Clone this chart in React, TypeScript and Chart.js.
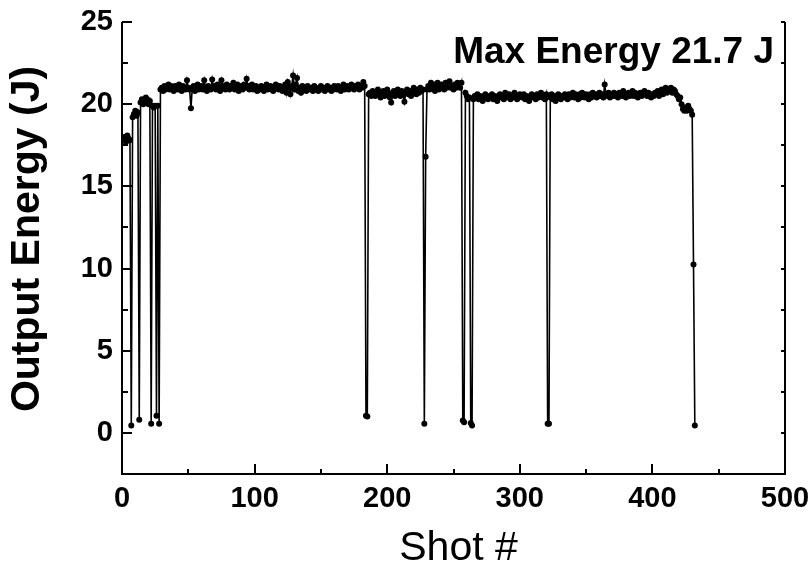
import React, { useEffect, useRef } from "react";
import { Chart, registerables } from "chart.js";
Chart.register(...registerables);

// Output energy (J) for shots 1..432
const energyJ: number[] = [
  17.8, 18.0, 17.7, 18.1, 17.9, 17.8, 0.45, 19.2, 19.4, 19.6, // 1-10
  19.3, 19.5, 0.8, 20.1, 20.3, 20.0, 20.2, 20.4, 20.3, 20.0, // 11-20
  20.2, 0.55, 19.9, 19.8, 19.9, 1.05, 19.9, 0.55, 20.9, 21.0, // 21-30
  20.8, 21.1, 20.9, 21.0, 21.2, 20.9, 21.1, 21.0, 20.8, 21.1, // 31-40
  21.0, 20.9, 21.2, 21.0, 20.8, 21.1, 21.0, 20.9, 21.45, 21.0, // 41-50
  20.9, 19.75, 21.0, 21.1, 20.8, 21.0, 21.2, 20.9, 21.0, 21.1, // 51-60
  20.9, 21.45, 21.0, 20.8, 21.1, 21.0, 20.9, 21.5, 21.0, 21.1, // 61-70
  20.9, 21.2, 21.0, 20.8, 21.45, 21.1, 21.0, 20.9, 21.2, 21.0, // 71-80
  20.9, 21.1, 21.0, 21.3, 20.9, 21.0, 21.2, 20.8, 21.0, 21.1, // 81-90
  20.9, 21.2, 21.0, 21.55, 21.1, 20.9, 21.0, 21.2, 20.9, 21.0, // 91-100
  21.1, 20.8, 21.0, 20.9, 21.1, 21.0, 20.8, 21.0, 21.2, 20.9, // 101-110
  21.0, 21.1, 20.9, 20.8, 21.0, 21.2, 21.0, 20.9, 21.1, 21.0, // 111-120
  20.8, 20.9, 21.2, 20.7, 21.35, 21.0, 20.6, 21.1, 21.75, 20.9, // 121-130
  21.2, 21.6, 20.8, 21.0, 20.7, 21.1, 20.9, 21.0, 20.8, 21.1, // 131-140
  21.0, 20.9, 21.0, 20.8, 21.1, 21.0, 20.9, 20.8, 21.0, 21.1, // 141-150
  20.9, 21.0, 20.8, 21.0, 21.1, 20.9, 21.0, 20.8, 20.9, 21.1, // 151-160
  21.0, 20.9, 21.1, 21.0, 20.8, 21.0, 21.2, 20.9, 21.0, 21.1, // 161-170
  20.9, 21.0, 21.2, 21.0, 20.9, 21.1, 21.0, 21.2, 20.9, 21.1, // 171-180
  21.0, 21.35, 21.1, 1.05, 1.0, 20.6, 20.7, 20.5, 20.8, 20.6, // 181-190
  20.5, 20.7, 20.9, 20.6, 20.4, 20.7, 20.8, 20.5, 20.6, 20.9, // 191-200
  20.7, 20.4, 20.1, 20.6, 20.8, 20.5, 20.7, 20.9, 20.6, 20.5, // 201-210
  20.8, 20.6, 20.15, 20.7, 20.9, 20.6, 20.8, 20.5, 20.7, 21.0, // 211-220
  20.8, 20.6, 20.9, 20.7, 21.0, 20.8, 20.9, 0.55, 16.8, 20.9, // 221-230
  21.1, 20.9, 21.3, 21.0, 21.2, 20.8, 21.1, 21.3, 20.9, 21.0, // 231-240
  21.2, 21.1, 20.9, 21.3, 21.0, 21.2, 21.4, 21.0, 21.1, 20.9, // 241-250
  21.2, 21.0, 21.3, 21.1, 21.0, 21.3, 0.75, 0.65, 20.7, 20.5, // 251-260
  20.3, 20.4, 0.6, 0.45, 20.3, 20.5, 20.4, 20.6, 20.3, 20.5, // 261-270
  20.4, 20.2, 20.5, 20.6, 20.4, 20.3, 20.5, 20.4, 20.6, 20.3, // 271-280
  20.5, 20.4, 20.2, 20.5, 20.6, 20.4, 20.5, 20.3, 20.7, 20.5, // 281-290
  20.4, 20.6, 20.3, 20.5, 20.4, 20.7, 20.5, 20.3, 20.4, 20.6, // 291-300
  20.5, 20.4, 20.6, 20.3, 20.5, 20.4, 20.2, 20.5, 20.6, 20.4, // 301-310
  20.5, 20.3, 20.6, 20.4, 20.5, 20.7, 20.4, 20.5, 20.3, 20.6, // 311-320
  0.55, 0.55, 20.4, 20.6, 20.3, 20.5, 20.2, 20.4, 20.6, 20.5, // 321-330
  20.3, 20.5, 20.4, 20.6, 20.5, 20.3, 20.6, 20.4, 20.5, 20.7, // 331-340
  20.4, 20.6, 20.5, 20.3, 20.6, 20.4, 20.7, 20.5, 20.4, 20.6, // 341-350
  20.5, 20.3, 20.6, 20.4, 20.7, 20.5, 20.6, 20.4, 20.5, 20.7, // 351-360
  20.5, 20.6, 20.4, 21.2, 20.6, 20.5, 20.7, 20.4, 20.6, 20.5, // 361-370
  20.7, 20.5, 20.6, 20.4, 20.7, 20.6, 20.5, 20.8, 20.6, 20.4, // 371-380
  20.6, 20.7, 20.5, 20.6, 20.8, 20.5, 20.7, 20.6, 20.4, 20.6, // 381-390
  20.7, 20.5, 20.6, 20.8, 20.6, 20.5, 20.7, 20.6, 20.4, 20.6, // 391-400
  20.5, 20.7, 20.6, 20.8, 20.5, 20.7, 20.9, 20.6, 20.8, 21.0, // 401-410
  20.7, 20.9, 20.8, 21.0, 20.7, 20.9, 20.8, 20.6, 20.5, 20.3, // 411-420
  20.4, 20.0, 19.7, 19.6, 19.8, 19.6, 19.9, 19.7, 19.6, 19.35, // 421-430
  10.25, 0.45, // 431-432
];

const xTickValues = [0, 100, 200, 300, 400, 500];
const xMinorValues = [50, 150, 250, 350, 450];
const yTickValues = [0, 5, 10, 15, 20, 25];
const yMinorValues = [-2.5, 2.5, 7.5, 12.5, 17.5, 22.5];
const xRange = [0, 500];
const yRange = [-2.5, 25];
const annotationText = "Max Energy 21.7 J";
const xTitle = "Shot #";
const yTitle = "Output Energy (J)";

const FONT = "'Liberation Sans', Arial, Helvetica, sans-serif";

const framePlugin = {
  id: "frame",
  afterDraw(chart: any) {
    const { ctx, chartArea } = chart;
    const { left, right, top, bottom } = chartArea;
    const xs = chart.scales.x;
    const ys = chart.scales.y;
    ctx.save();
    ctx.strokeStyle = "#000";
    ctx.lineWidth = 2;
    ctx.lineCap = "butt";
    ctx.beginPath();
    ctx.moveTo(left, top);
    ctx.lineTo(left, bottom);
    ctx.lineTo(right, bottom);
    ctx.lineTo(right, top);
    ctx.stroke();
    ctx.beginPath();
    for (const v of xTickValues) {
      const px = Math.round(xs.getPixelForValue(v));
      ctx.moveTo(px, bottom);
      ctx.lineTo(px, bottom - 10);
    }
    for (const v of xMinorValues) {
      const px = Math.round(xs.getPixelForValue(v));
      ctx.moveTo(px, bottom);
      ctx.lineTo(px, bottom - 5);
    }
    for (const v of yTickValues) {
      const py = Math.round(ys.getPixelForValue(v));
      ctx.moveTo(left, py);
      ctx.lineTo(left + 10, py);
      ctx.moveTo(right, py);
      ctx.lineTo(right - 4, py);
    }
    for (const v of yMinorValues) {
      const py = Math.round(ys.getPixelForValue(v));
      ctx.moveTo(left, py);
      ctx.lineTo(left + 6, py);
      ctx.moveTo(right, py);
      ctx.lineTo(right - 4, py);
    }
    ctx.stroke();
    ctx.fillStyle = "#000";
    // annotation
    ctx.font = `bold 37px ${FONT}`;
    ctx.textAlign = "right";
    ctx.textBaseline = "alphabetic";
    ctx.fillText(annotationText, right - 11, top + 41);
    // x-axis title
    ctx.font = `41px ${FONT}`;
    ctx.textAlign = "center";
    ctx.fillText(xTitle, (left + right) / 2 + 5, 560);
    // y-axis title
    ctx.save();
    ctx.font = `bold 41px ${FONT}`;
    ctx.textAlign = "center";
    ctx.textBaseline = "middle";
    ctx.translate(28, 239);
    ctx.rotate(-Math.PI / 2);
    ctx.fillText(yTitle, 0, 0);
    ctx.restore();
    ctx.restore();
  },
};

export default function App() {
  const ref = useRef<HTMLCanvasElement | null>(null);
  useEffect(() => {
    if (!ref.current) return;
    const points = energyJ.map((e, i) => ({ x: i + 1, y: e }));
    const chart = new Chart(ref.current, {
      type: "line",
      data: {
        datasets: [
          {
            data: points,
            borderColor: "#000",
            backgroundColor: "#000",
            borderWidth: 1.6,
            pointRadius: 3,
            pointBorderWidth: 0,
            pointBackgroundColor: "#000",
            tension: 0,
          },
        ],
      },
      options: {
        animation: false,
        responsive: false,
        layout: { padding: { top: 22, right: 27, left: 0, bottom: 0 } },
        plugins: {
          legend: { display: false },
          tooltip: { enabled: false },
        },
        scales: {
          x: {
            type: "linear",
            min: xRange[0],
            max: xRange[1],
            afterBuildTicks: (s: any) => {
              s.ticks = xTickValues.map((v) => ({ value: v }));
            },
            afterFit: (s: any) => {
              s.height = 95;
              s.paddingLeft = 0;
              s.paddingRight = 0;
            },
            grid: { display: false, drawTicks: false },
            border: { display: false },
            ticks: {
              color: "#000",
              padding: 8,
              maxRotation: 0,
              font: { family: FONT, size: 29, weight: "bold" },
            },
            title: { display: false },
          },
          y: {
            type: "linear",
            min: yRange[0],
            max: yRange[1],
            afterBuildTicks: (s: any) => {
              s.ticks = yTickValues.map((v) => ({ value: v }));
            },
            afterFit: (s: any) => {
              s.width = 122;
              s.paddingTop = 0;
              s.paddingBottom = 0;
            },
            grid: { display: false, drawTicks: false },
            border: { display: false },
            ticks: {
              color: "#000",
              padding: 9,
              font: { family: FONT, size: 29, weight: "bold" },
            },
            title: { display: false },
          },
        },
      },
      plugins: [framePlugin],
    });
    return () => chart.destroy();
  }, []);
  return (
    <div style={{ position: "fixed", left: 0, top: 0, width: 812, height: 569, background: "#fff" }}>
      <canvas ref={ref} width={812} height={569} style={{ display: "block" }} />
    </div>
  );
}
